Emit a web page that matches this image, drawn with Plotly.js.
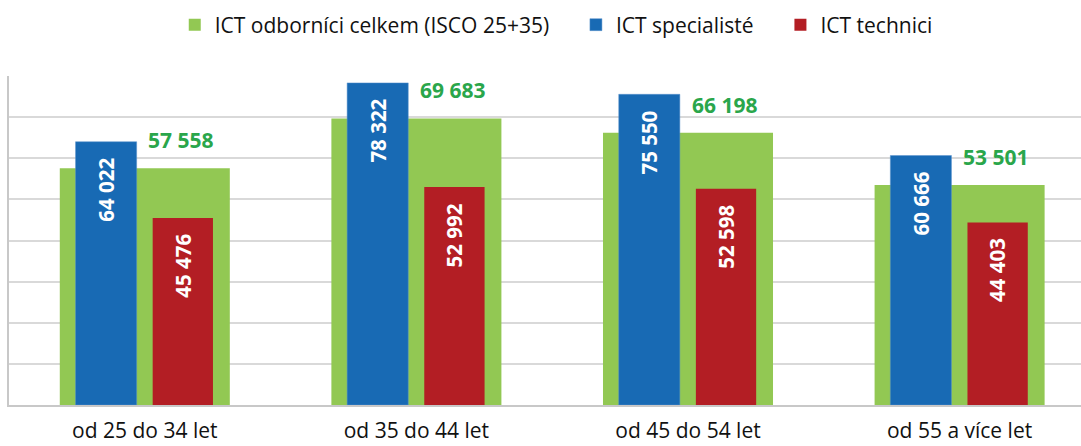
<!DOCTYPE html>
<html>
<head>
<meta charset="utf-8">
<script src="https://cdn.plot.ly/plotly-3.0.1.min.js"></script>
<style>
  html, body { margin: 0; padding: 0; background: #fff; }
  #chart { width: 1081px; height: 446px; }
</style>
</head>
<body>
<div id="chart"></div>
<script>
var categories = ['od 25 do 34 let', 'od 35 do 44 let', 'od 45 do 54 let', 'od 55 a více let'];
var celkem = [57558, 69683, 66198, 53501];
var specialiste = [64022, 78322, 75550, 60666];
var technici = [45476, 52992, 52598, 44403];
var seriesNames = ['ICT odborníci celkem (ISCO 25+35)', 'ICT specialisté', 'ICT technici'];

function fmt(v) {
  // thousands separated by a space, Czech style
  return String(v).replace(/\B(?=(\d{3})+(?!\d))/g, ' ');
}

// extra room after a legend entry, the way the original spaces them out
function pad(s) {
  return s + '\u00a0\u00a0\u00a0\u00a0';
}

var fontFam = '"Open Sans", "Noto Sans", sans-serif';

var trGreen = {
  x: categories,
  y: celkem,
  name: pad(seriesNames[0]),
  type: 'bar',
  width: 0.626,
  marker: { color: '#92c853' },
  hoverinfo: 'y'
};

var trBlue = {
  x: categories,
  y: specialiste,
  name: pad(seriesNames[1]),
  type: 'bar',
  width: 0.225,
  offset: -0.255,
  marker: { color: '#186ab4', line: { color: '#5b93cc', width: 0.5 } },
  hoverinfo: 'y'
};

var trRed = {
  x: categories,
  y: technici,
  name: seriesNames[2],
  type: 'bar',
  width: 0.222,
  offset: 0.029,
  marker: { color: '#b31e24' },
  hoverinfo: 'y'
};

var annotations = [];
for (var i = 0; i < categories.length; i++) {
  annotations.push({
    x: i + 0.135, y: celkem[i], xref: 'x', yref: 'y',
    text: '<b>' + fmt(celkem[i]) + '</b>',
    showarrow: false, xanchor: 'center', yanchor: 'bottom', yshift: 12,
    font: { family: fontFam, size: 21, color: '#2aa64b' }
  });
  annotations.push({
    x: i - 0.1425, y: specialiste[i], xref: 'x', yref: 'y',
    text: '<b>' + fmt(specialiste[i]) + '</b>',
    showarrow: false, textangle: -90, xanchor: 'center', yanchor: 'top', yshift: -14,
    font: { family: fontFam, size: 20.5, color: '#ffffff' }
  });
  annotations.push({
    x: i + 0.14, y: technici[i], xref: 'x', yref: 'y',
    text: '<b>' + fmt(technici[i]) + '</b>',
    showarrow: false, textangle: -90, xanchor: 'center', yanchor: 'top', yshift: -14,
    font: { family: fontFam, size: 20.5, color: '#ffffff' }
  });
}

var layout = {
  width: 1081,
  height: 446,
  margin: { l: 9, r: 0, t: 76, b: 41, pad: 0 },
  paper_bgcolor: '#ffffff',
  plot_bgcolor: '#ffffff',
  barmode: 'overlay',
  font: { family: fontFam, size: 21, color: '#111111' },
  showlegend: true,
  legend: {
    orientation: 'h',
    x: 0.5105, xanchor: 'center',
    y: 1.155, yanchor: 'middle',
    font: { family: fontFam, size: 21, color: '#111111' },
    tracegroupgap: 0
  },
  xaxis: {
    type: 'category',
    range: [-0.5, 3.447],
    showgrid: false,
    showline: true,
    linecolor: '#c8c8c8',
    linewidth: 2,
    ticks: '',
    ticklabelstandoff: 6,
    tickfont: { family: fontFam, size: 21, color: '#111111' },
    fixedrange: true
  },
  yaxis: {
    range: [0, 80000],
    dtick: 10000,
    showgrid: true,
    gridcolor: '#d9d9d9',
    gridwidth: 2,
    showticklabels: false,
    zeroline: false,
    showline: true,
    linecolor: '#c8c8c8',
    linewidth: 2,
    ticks: '',
    fixedrange: true
  },
  annotations: annotations
};

Plotly.newPlot('chart', [trGreen, trBlue, trRed], layout, { displayModeBar: false, staticPlot: true });
</script>
</body>
</html>
